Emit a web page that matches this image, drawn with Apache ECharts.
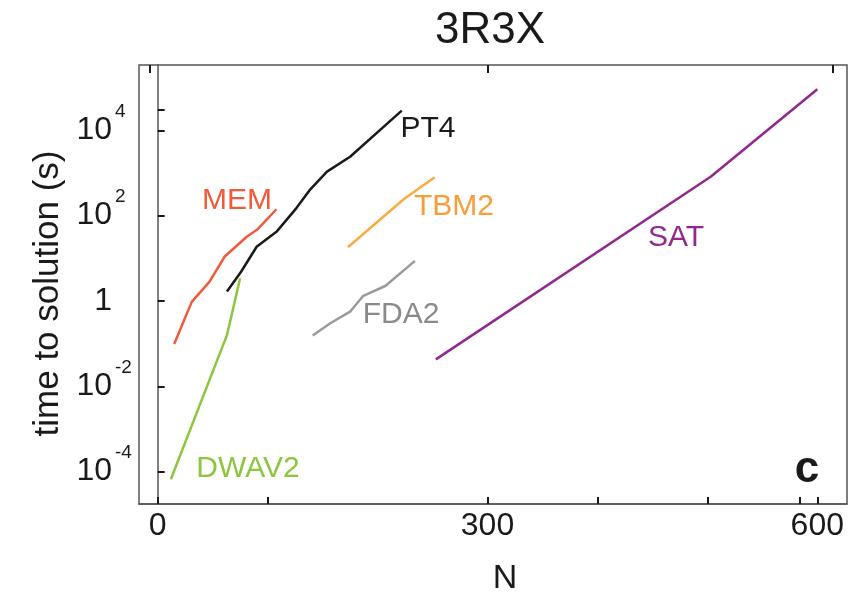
<!DOCTYPE html>
<html>
<head>
<meta charset="utf-8">
<script src="https://cdn.jsdelivr.net/npm/echarts@6/dist/echarts.min.js"></script>
<style>html,body{margin:0;padding:0;background:#fff;}#c{width:868px;height:594px;}</style>
</head>
<body>
<div id="c"></div>
<script>
// ---- data (N, time to solution in seconds) ----
var memN   = [15, 31, 47, 61, 81, 91, 108];
var memT   = [0.098, 0.95, 2.8, 11, 32, 48, 141];
var pt4N   = [63, 76, 90, 108, 126, 138, 154, 175, 222];
var pt4T   = [1.66, 4.9, 18.6, 41.7, 148, 389, 1072, 2399, 28840];
var dwavN  = [12, 63, 75];
var dwavT  = [0.000066, 0.158, 3.4];
var tbmN   = [173, 224, 252];
var tbmT   = [18.2, 245, 794];
var fdaN   = [141, 157, 175, 187, 207, 234];
var fdaT   = [0.155, 0.30, 0.56, 1.32, 2.24, 8.7];
var satN   = [253, 503, 600];
var satT   = [0.0427, 813, 91200];

// ---- ticks ----
var xTickValues   = [0, 100, 300, 400, 500, 584, 600];
var xLabelValues  = [0, 300, 600];
var xTopTicks     = [-7, 300, 614];
var yTickValues   = [0.0001, 0.01, 1, 100, 10000, 30200];
var yLabelValues  = [0.0001, 0.01, 1, 100, 10000];

function pairs(xs, ys){ return xs.map(function(x,i){ return [x, ys[i]]; }); }
function expOf(v){ return Math.round(Math.log(v)/Math.LN10); }

var FONT = '"Liberation Sans", Arial, Helvetica, sans-serif';
var chart = echarts.init(document.getElementById('c'), null, {renderer:'canvas'});

function mk(name, xs, ys, color){
  return {
    name: name, type: 'line', data: pairs(xs, ys),
    showSymbol: false, symbol: 'none', silent: true,
    lineStyle: {color: color, width: 2.5}, itemStyle:{color: color},
    z: 3
  };
}

var yMin = 1.74e-5, yMax = 3.39e5;

var option = {
  animation: false,
  backgroundColor: '#fff',
  grid: {left: 139, right: 21, top: 65, bottom: 90, show: true, borderColor: '#555', borderWidth: 1.5, outerBoundsMode: 'none', containLabel: false},
  xAxis: [{
    type: 'value', min: -17, max: 627,
    name: 'N', nameLocation: 'middle', nameGap: 58,
    nameTextStyle: {fontFamily: FONT, fontSize: 34, color: '#1a1a1a', padding: [0,0,0,24]},
    axisLine: {show: true, lineStyle: {color: '#555', width: 1.5}},
    axisTick: {show: true, inside: true, length: 7, customValues: xTickValues, lineStyle: {color: '#1a1a1a', width: 2}},
    axisLabel: {show: true, customValues: xLabelValues, margin: 6, fontFamily: FONT, fontSize: 32, color: '#1a1a1a'},
    splitLine: {show: false}
  }, {
    type: 'value', min: -17, max: 627, position: 'top',
    axisLine: {show: false},
    axisTick: {show: true, inside: true, length: 8, customValues: xTopTicks, lineStyle: {color: '#1a1a1a', width: 2}},
    axisLabel: {show: false},
    splitLine: {show: false}
  }],
  yAxis: [{
    type: 'log', logBase: 10, min: yMin, max: yMax,
    name: 'time to solution (s)', nameLocation: 'middle', nameGap: 72, nameRotate: 90,
    nameTextStyle: {fontFamily: FONT, fontSize: 35, color: '#1a1a1a', padding: [0, 18, 0, 0]},
    axisLine: {show: true, lineStyle: {color: '#555', width: 1.5}},
    axisTick: {show: true, inside: true, length: 7, customValues: yTickValues, lineStyle: {color: '#1a1a1a', width: 2}},
    axisLabel: {
      show: true, customValues: yLabelValues, margin: 27,
      fontFamily: FONT, fontSize: 32, color: '#1a1a1a',
      formatter: function(v){ return expOf(v) === 0 ? '1' : '10'; }
    },
    splitLine: {show: false}
  }, {
    type: 'log', logBase: 10, min: yMin, max: yMax, position: 'left', offset: 0,
    axisLine: {show: false}, axisTick: {show: false}, splitLine: {show: false},
    axisLabel: {
      show: true, customValues: yLabelValues, margin: 24, align: 'left',
      verticalAlign: 'bottom', lineHeight: 19, padding: [0, 0, 9, 0],
      fontFamily: FONT, fontSize: 19, color: '#1a1a1a',
      formatter: function(v){ var e = expOf(v); return e === 0 ? '' : String(e); }
    }
  }],
  series: [
    mk('MEM', memN, memT, '#f15a3a'),
    mk('PT4', pt4N, pt4T, '#1a1a1a'),
    mk('DWAV2', dwavN, dwavT, '#8cc63f'),
    mk('TBM2', tbmN, tbmT, '#fbab45'),
    mk('FDA2', fdaN, fdaT, '#9a9a9a'),
    mk('SAT', satN, satT, '#92278f')
  ],
  graphic: [
    {type:'text', x: 490, y: 31, style:{text:'3R3X', fontFamily: FONT, fontSize: 44, fill:'#1a1a1a', align:'center', verticalAlign:'middle'}},
    {type:'text', x: 237, y: 201, style:{text:'MEM', fontFamily: FONT, fontSize: 30, fill:'#f15a3a', align:'center', verticalAlign:'middle'}},
    {type:'text', x: 428, y: 129, style:{text:'PT4', fontFamily: FONT, fontSize: 30, fill:'#1a1a1a', align:'center', verticalAlign:'middle'}},
    {type:'text', x: 454, y: 207, style:{text:'TBM2', fontFamily: FONT, fontSize: 30, fill:'#f99d3a', align:'center', verticalAlign:'middle'}},
    {type:'text', x: 401, y: 315, style:{text:'FDA2', fontFamily: FONT, fontSize: 30, fill:'#8a8a8a', align:'center', verticalAlign:'middle'}},
    {type:'text', x: 676, y: 238, style:{text:'SAT', fontFamily: FONT, fontSize: 30, fill:'#92278f', align:'center', verticalAlign:'middle'}},
    {type:'text', x: 248, y: 469, style:{text:'DWAV2', fontFamily: FONT, fontSize: 30, fill:'#8cc63f', align:'center', verticalAlign:'middle'}},
    {type:'text', x: 807, y: 470, style:{text:'c', fontFamily: FONT, fontSize: 44, fontWeight:'bold', fill:'#1a1a1a', align:'center', verticalAlign:'middle'}}
  ]
};
chart.setOption(option);
</script>
</body>
</html>
